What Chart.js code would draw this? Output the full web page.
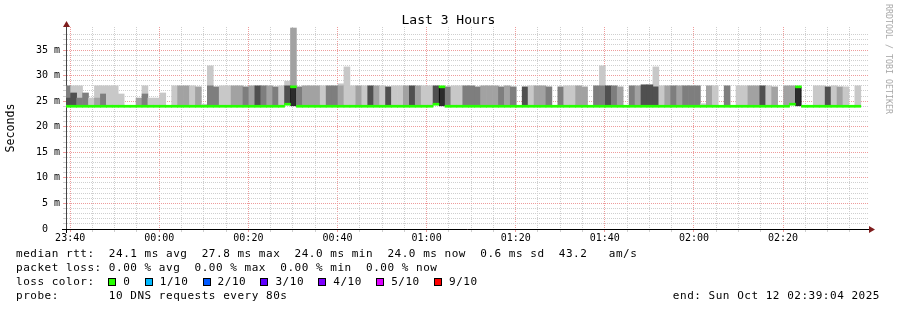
<!DOCTYPE html>
<html>
<head>
<meta charset="utf-8">
<title>Last 3 Hours</title>
<script src="https://cdn.jsdelivr.net/npm/chart.js@4.4.1/dist/chart.umd.min.js"></script>
<style>
  html, body { margin: 0; padding: 0; background: #fff; }
  #wrap {
    position: relative; width: 897px; height: 310px; overflow: hidden;
    font-family: 'DejaVu Sans Mono', monospace; color: #000;
  }
  #chart { position: absolute; left: 0; top: 0; }
  #title {
    position: absolute; left: 0; top: 12px; width: 897px;
    text-align: center; font-size: 13px; line-height: 15px;
  }
  #stamp {
    position: absolute; left: 0; top: 0; white-space: pre;
    font-size: 8.3px; line-height: 10px; color: #a8a8a8;
    transform-origin: 0 0; transform: translate(894px, 4px) rotate(90deg);
  }
  .line {
    position: absolute; white-space: pre;
    font-size: 11px; letter-spacing: 0.52px; line-height: 14px;
  }
  .box {
    position: absolute; width: 6px; height: 6px; border: 1px solid #000;
  }
</style>
</head>
<body>
<div id="wrap">
  <canvas id="chart" width="897" height="310"></canvas>
  <div id="title"></div>
  <div id="stamp"></div>
  <div id="legend"></div>
</div>
<script>
// Time window in minutes relative to 00:00 (23:39:04 .. 02:39:04)
const windowStart = -20 - 56 / 60;
const windowEnd = 159 + 4 / 60;
// first 80 s probe step starts at 23:38:47
const firstStep = -21 - 13 / 60;
const stepMinutes = 80 / 60;

const titleText = 'Last 3 Hours';
const stampText = 'RRDTOOL / TOBI OETIKER';
const yTitle = 'Seconds';

const timeTickLabels = ['23:40', '00:00', '00:20', '00:40', '01:00', '01:20', '01:40', '02:00', '02:20'];
const rttTickLabels = ['0  ', '5 m', '10 m', '15 m', '20 m', '25 m', '30 m', '35 m'];

// median rtt per step (ms)
const medianRtt = [
  24.0, 24.0, 24.0, 24.0, 24.0, 24.0, 24.0, 24.0, 24.0, 24.0,
  24.0, 24.0, 24.0, 24.0, 24.0, 24.0, 24.0, 24.0, 24.0, 24.0,
  24.0, 24.0, 24.0, 24.0, 24.0, 24.0, 24.0, 24.0, 24.0, 24.0,
  24.0, 24.0, 24.0, 24.0, 24.0, 24.0, 24.0, 24.4, 27.8, 24.0,
  24.0, 24.0, 24.0, 24.0, 24.0, 24.0, 24.0, 24.0, 24.0, 24.0,
  24.0, 24.0, 24.0, 24.0, 24.0, 24.0, 24.0, 24.0, 24.0, 24.0,
  24.0, 24.0, 24.4, 27.8, 24.0, 24.0, 24.0, 24.0, 24.0, 24.0,
  24.0, 24.0, 24.0, 24.0, 24.0, 24.0, 24.0, 24.0, 24.0, 24.0,
  24.0, 24.0, 24.0, 24.0, 24.0, 24.0, 24.0, 24.0, 24.0, 24.0,
  24.0, 24.0, 24.0, 24.0, 24.0, 24.0, 24.0, 24.0, 24.0, 24.0,
  24.0, 24.0, 24.0, 24.0, 24.0, 24.0, 24.0, 24.0, 24.0, 24.0,
  24.0, 24.0, 24.0, 24.0, 24.0, 24.0, 24.0, 24.0, 24.0, 24.0,
  24.0, 24.0, 24.4, 27.8, 24.0, 24.0, 24.0, 24.0, 24.0, 24.0,
  24.0, 24.0, 24.0, 24.0, null, null
];

// fastest ping per step (bottom of the smoke)
const minRtt = [
  24.0, 24.0, 24.0, 24.0, 24.0, 24.0, 24.0, 24.0, 24.0, 24.0,
  24.0, 24.0, 24.0, 24.0, 24.0, 24.0, 24.0, 24.0, 24.0, 24.0,
  24.0, 24.0, 24.0, 24.0, 24.0, 24.0, 24.0, 24.0, 24.0, 24.0,
  24.0, 24.0, 24.0, 24.0, 24.0, 24.0, 24.0, 24.4, 24.0, 24.0,
  24.0, 24.0, 24.0, 24.0, 24.0, 24.0, 24.0, 24.0, 24.0, 24.0,
  24.0, 24.0, 24.0, 24.0, 24.0, 24.0, 24.0, 24.0, 24.0, 24.0,
  24.0, 24.0, 24.4, 24.0, 24.0, 24.0, 24.0, 24.0, 24.0, 24.0,
  24.0, 24.0, 24.0, 24.0, 24.0, 24.0, 24.0, 24.0, 24.0, 24.0,
  24.0, 24.0, 24.0, 24.0, 24.0, 24.0, 24.0, 24.0, 24.0, 24.0,
  24.0, 24.0, 24.0, 24.0, 24.0, 24.0, 24.0, 24.0, 24.0, 24.0,
  24.0, 24.0, 24.0, 24.0, 24.0, 24.0, 24.0, 24.0, 24.0, 24.0,
  24.0, 24.0, 24.0, 24.0, 24.0, 24.0, 24.0, 24.0, 24.0, 24.0,
  24.0, 24.0, 24.4, 24.0, 24.0, 24.0, 24.0, 24.0, 24.0, 24.0,
  24.0, 24.0, 24.0, 24.0, null, null
];

// top of the dense part of the smoke (ms) and its density 1..5
const innerTop = [
  25.6, 26.6, 25.6, 26.6, 25.6, 25.6, 26.4, 28, 28, 26.4,
  null, null, 25.6, 26.4, 25.6, 25.6, 26.6, null, 28, 28,
  28, 28, 27.8, 24.4, 28, 27.8, 28, 28, 28, 28,
  27.8, 28, 28, 28, 28, 27.8, 28, 28, 27.8, 27.8,
  28, 28, 28, 28, 28, 28, 28, 28, 28, 28,
  28, 28, 28, 28, 27.8, 28, 28, 28, 28, 28,
  28, 28, 28, 27.8, 27.8, 28, 28, 28, 28, 27.8,
  28, 28, 28, 27.8, 28, 27.8, null, 27.8, 28, 28,
  28, 27.8, null, 27.8, 28, 28, 28, 27.8, null, 28,
  28, 28, 28, 27.8, null, 28, 28, 28.2, 28.2, 27.8,
  28, 28, 28, 28, 28, 28, 28, 24.5, 28, 28,
  null, 28, null, 28, 28, 28, 28, 28, 28, 27.8,
  null, 28, 28, 27.8, null, null, 28, 28, 27.8, 28,
  27.8, 27.8, null, 28, null, null
];
const innerDensity = [
  4, 4, 3, 3, 1, 2, 3, 1, 1, 1,
  null, null, 2, 3, 1, 1, 1, null, 1, 2,
  2, 1, 2, 1, 3, 3, 1, 1, 2, 2,
  3, 2, 4, 3, 2, 3, 1, 4, 5, 3,
  2, 2, 2, 1, 3, 3, 2, 1, 1, 2,
  1, 4, 2, 1, 4, 1, 1, 2, 4, 2,
  1, 1, 4, 5, 3, 1, 1, 3, 3, 3,
  2, 2, 2, 3, 2, 3, null, 4, 1, 2,
  2, 3, null, 3, 1, 1, 2, 2, null, 3,
  3, 4, 3, 2, null, 3, 2, 4, 4, 4,
  1, 2, 3, 2, 3, 3, 3, 1, 2, 1,
  null, 3, null, 1, 1, 2, 2, 4, 1, 2,
  null, 2, 2, 5, null, null, 1, 1, 4, 1,
  2, 1, null, 1, null, null
];

// slowest pings above the dense part (ms) and their density
const outerTop = [
  28, 28, 28, null, null, 28, 28, null, null, null,
  null, null, null, 28, null, null, null, null, null, null,
  null, null, null, null, 31.9, null, null, null, null, null,
  null, null, null, null, null, null, null, 28.9, 39.3, null,
  null, null, null, null, null, null, 28.4, 31.7, null, null,
  null, null, null, null, null, null, null, null, null, null,
  null, null, null, null, null, null, null, null, null, null,
  null, null, null, null, null, null, null, null, null, null,
  null, null, null, null, null, null, null, null, null, null,
  31.9, null, null, null, null, null, null, null, null, 31.7,
  null, null, null, null, null, null, null, null, null, null,
  null, null, null, null, null, null, null, null, null, null,
  null, null, null, null, null, null, null, null, null, null,
  null, null, null, null, null, null
];
const outerDensity = [
  3, 1, 1, null, null, 1, 1, null, null, null,
  null, null, null, 1, null, null, null, null, null, null,
  null, null, null, null, 1, null, null, null, null, null,
  null, null, null, null, null, null, null, 1, 2, null,
  null, null, null, null, null, null, 1, 1, null, null,
  null, null, null, null, null, null, null, null, null, null,
  null, null, null, null, null, null, null, null, null, null,
  null, null, null, null, null, null, null, null, null, null,
  null, null, null, null, null, null, null, null, null, null,
  1, null, null, null, null, null, null, null, null, 1,
  null, null, null, null, null, null, null, null, null, null,
  null, null, null, null, null, null, null, null, null, null,
  null, null, null, null, null, null, null, null, null, null,
  null, null, null, null, null, null
];

const rttStats = 'median rtt:  24.1 ms avg  27.8 ms max  24.0 ms min  24.0 ms now  0.6 ms sd  43.2   am/s';
const lossStats = 'packet loss: 0.00 % avg  0.00 % max  0.00 % min  0.00 % now';
const lossTitle = 'loss color:';
const lossLabels = ['0', '1/10', '2/10', '3/10', '4/10', '5/10', '9/10'];
const probeText = 'probe:       10 DNS requests every 80s';
const endText = 'end: Sun Oct 12 02:39:04 2025';

// styles
const lossColors = ['#26ff00', '#00b8ff', '#0059ff', '#5e00ff', '#7e00ff', '#dd00ff', '#ff0000'];
const smokeGreys = ['#c8c8c8', '#a2a2a2', '#7e7e7e', '#505050', '#2c2c2c'];
const minorGrid = '#cfcfcf';
const majorGrid = '#ee9c9c';
const medianLineMs = 0.4;
const FONT = 'DejaVu Sans Mono';

function toMinutes(label) {
    const [h, m] = label.split(':').map(Number);
    return (h >= 12 ? h * 60 - 1440 : h * 60) + m;
}

const majorMinutes = timeTickLabels.map(toMinutes);

function stepCenter(i) {
    return firstStep + (i + 0.5) * stepMinutes;
}

function bandData(lows, highs, density) {
    const out = [];
    highs.forEach((hi, i) => {
        if (hi === null || lows[i] === null) return;
        out.push({ x: stepCenter(i), y: [lows[i], hi], d: density[i] });
    });
    return out;
}

const medianData = [];
medianRtt.forEach((m, i) => {
    if (m === null) return;
    medianData.push({ x: stepCenter(i), y: [m - medianLineMs / 2, m + medianLineMs / 2] });
});

// rrdtool style arrows at the end of the axes
const axisArrows = {
    id: 'axisArrows',
    afterDraw(chart) {
        const { ctx, chartArea: a } = chart;
        ctx.save();
        ctx.strokeStyle = '#000';
        ctx.lineWidth = 1;
        ctx.beginPath();
        ctx.moveTo(a.left - 4, a.bottom + 0.5);
        ctx.lineTo(a.left, a.bottom + 0.5);
        ctx.moveTo(a.left + 0.5, a.bottom);
        ctx.lineTo(a.left + 0.5, a.bottom + 4);
        ctx.stroke();
        ctx.fillStyle = '#7f1d1d';
        ctx.beginPath();
        ctx.moveTo(a.right + 1, a.bottom - 3);
        ctx.lineTo(a.right + 7, a.bottom + 0.5);
        ctx.lineTo(a.right + 1, a.bottom + 4);
        ctx.closePath();
        ctx.fill();
        ctx.beginPath();
        ctx.moveTo(a.left - 3, a.top);
        ctx.lineTo(a.left + 0.5, a.top - 6);
        ctx.lineTo(a.left + 4, a.top);
        ctx.closePath();
        ctx.fill();
        ctx.restore();
    }
};

function tickColor(ctx, isMajor) {
    if (!ctx.tick) return 'transparent';
    return isMajor(ctx.tick.value) ? majorGrid : minorGrid;
}
const isMajorTime = v => majorMinutes.includes(v);
const isMajorRtt = v => v % 5 === 0;

Chart.defaults.font.family = FONT;
Chart.defaults.color = '#000';

new Chart(document.getElementById('chart'), {
    type: 'bar',
    data: {
        datasets: [
            {
                label: 'median rtt',
                data: medianData,
                backgroundColor: lossColors[0]
            },
            {
                label: 'smoke',
                data: bandData(minRtt, innerTop, innerDensity),
                backgroundColor: ctx => smokeGreys[(ctx.raw ? ctx.raw.d : 1) - 1],
                borderColor: '#000',
                borderWidth: ctx => (ctx.raw && ctx.raw.d === 5) ? { left: 1, right: 1, top: 0, bottom: 0 } : 0,
                borderSkipped: false
            },
            {
                label: 'smoke outer',
                data: bandData(innerTop, outerTop, outerDensity),
                backgroundColor: ctx => smokeGreys[(ctx.raw ? ctx.raw.d : 1) - 1]
            }
        ]
    },
    options: {
        responsive: false,
        animation: false,
        events: [],
        datasets: {
            bar: { grouped: false, barPercentage: 1, categoryPercentage: 1, clip: 0 }
        },
        layout: { padding: { left: 0, right: 29, top: 27, bottom: 61 } },
        plugins: {
            legend: { display: false },
            tooltip: { enabled: false },
            title: { display: false }
        },
        scales: {
            x: {
                type: 'linear',
                min: windowStart,
                max: windowEnd,
                offset: false,
                afterBuildTicks: scale => {
                    const ticks = [];
                    for (let v = majorMinutes[0]; v < windowEnd; v += 5) ticks.push({ value: v });
                    scale.ticks = ticks;
                },
                afterFit: scale => { scale.height = 20; },
                grid: {
                    offset: false,
                    color: ctx => tickColor(ctx, isMajorTime),
                    tickColor: ctx => tickColor(ctx, isMajorTime),
                    tickLength: 3,
                    lineWidth: 1
                },
                border: { color: '#000', width: 1, dash: [1, 1] },
                ticks: {
                    autoSkip: false,
                    maxRotation: 0,
                    padding: 0,
                    font: { size: 10 },
                    callback: value => {
                        const k = majorMinutes.indexOf(value);
                        return k >= 0 ? timeTickLabels[k] : '';
                    }
                }
            },
            y: {
                min: 0,
                max: 39.5,
                afterBuildTicks: scale => {
                    scale.ticks = scale.ticks.filter(t => Number.isInteger(t.value));
                },
                afterFit: scale => { scale.width = 66; },
                grid: {
                    color: ctx => tickColor(ctx, isMajorRtt),
                    tickColor: ctx => tickColor(ctx, isMajorRtt),
                    tickLength: 3,
                    lineWidth: 1
                },
                border: { color: '#444', width: 1, dash: [1, 1] },
                ticks: {
                    stepSize: 1,
                    autoSkip: false,
                    padding: 3,
                    font: { size: 10 },
                    callback: value => isMajorRtt(value) ? rttTickLabels[value / 5] : ''
                },
                title: {
                    display: true,
                    text: yTitle,
                    font: { size: 11.6 },
                    padding: { top: 4, bottom: 0 }
                }
            }
        }
    },
    plugins: [axisArrows]
});

// texts around the graph
document.getElementById('title').textContent = titleText;
document.getElementById('stamp').textContent = stampText;

const legend = document.getElementById('legend');
function addLine(text, left, top, extra) {
    const el = document.createElement('div');
    el.className = 'line';
    el.textContent = text;
    el.style.top = top + 'px';
    if (left !== null) el.style.left = left + 'px';
    if (extra) Object.assign(el.style, extra);
    legend.appendChild(el);
    return el;
}
addLine(rttStats, 16, 247);
addLine(lossStats, 16, 261);
addLine(lossTitle, 16, 275);
addLine(probeText, 16, 289);
addLine(endText, null, 289, { right: '17px' });

let boxX = 108.3;
lossLabels.forEach((label, i) => {
    const box = document.createElement('div');
    box.className = 'box';
    box.style.left = boxX + 'px';
    box.style.top = '278px';
    box.style.background = lossColors[i];
    legend.appendChild(box);
    addLine(label, boxX + 15, 275);
    boxX += 15 + label.length * 7.14 + 14.3;
});
</script>
</body>
</html>
